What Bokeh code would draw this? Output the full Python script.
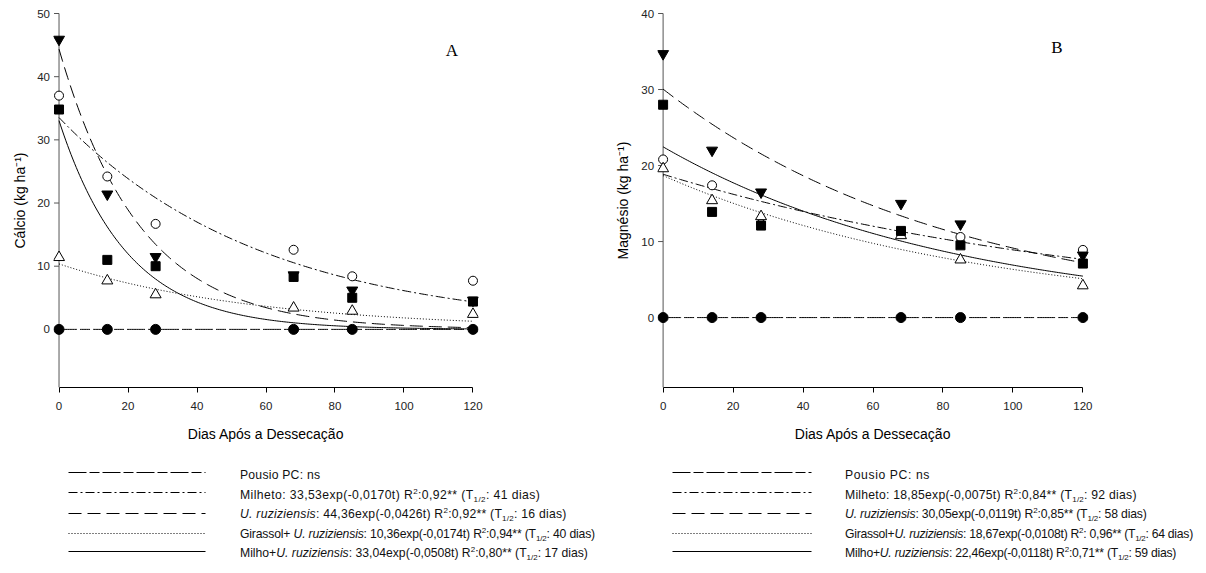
import numpy as np
from bokeh.plotting import figure
from bokeh.models import Range1d, FixedTicker, Div
from bokeh.layouts import column, row
from bokeh.embed import file_html
from bokeh.resources import INLINE
from bokeh.core.properties import value

# ---------------- data ----------------
days = [0, 14, 28, 68, 85, 120]
series_names = ["Pousio PC", "Milheto", "U. ruziziensis", "Girassol+U. ruziziensis", "Milho+U. ruziziensis"]

# Panel A - Calcio (kg/ha)
ca_pousio = [0, 0, 0, 0, 0, 0]
ca_milheto = [37.0, 24.2, 16.7, 12.6, 8.4, 7.7]
ca_uruz = [45.9, 21.4, 11.5, 8.6, 6.2, 4.6]
ca_girassol = [11.4, 7.7, 5.5, 3.4, 2.9, 2.4]
ca_milho = [34.8, 11.0, 10.0, 8.3, 5.0, 4.4]
# fitted models y = a*exp(-b t) (Pousio: ns -> 0)
ca_a = [0.0, 33.53, 44.36, 10.36, 33.04]
ca_b = [0.0, 0.0170, 0.0426, 0.0174, 0.0508]

# Panel B - Magnesio (kg/ha)
mg_pousio = [0, 0, 0, 0, 0, 0]
mg_milheto = [20.8, 17.4, 12.3, 11.1, 10.6, 8.9]
mg_uruz = [34.7, 22.0, 16.5, 15.0, 12.3, 8.2]
mg_girassol = [19.6, 15.4, 13.3, 10.8, 7.6, 4.2]
mg_milho = [28.0, 13.9, 12.1, 11.4, 9.5, 7.1]
mg_a = [0.0, 18.85, 30.05, 18.67, 22.46]
mg_b = [0.0, 0.0075, 0.0119, 0.0108, 0.0118]

x_ticks = [0, 20, 40, 60, 80, 100, 120]
ca_ticks = [0, 10, 20, 30, 40, 50]
mg_ticks = [0, 10, 20, 30, 40]

legend_A = [
    "Pousio PC: ns",
    "Milheto: 33,53exp(-0,0170t) R<sup>2</sup>:0,92** (T<sub>1/2</sub>: 41 dias)",
    "<i>U. ruziziensis</i>: 44,36exp(-0,0426t) R<sup>2</sup>:0,92** (T<sub>1/2</sub>: 16 dias)",
    "Girassol+ <i>U. ruziziensis</i>: 10,36exp(-0,0174t) R<sup>2</sup>:0,94** (T<sub>1/2</sub>: 40 dias)",
    "Milho+<i>U. ruziziensis</i>: 33,04exp(-0,0508t) R<sup>2</sup>:0,80** (T<sub>1/2</sub>: 17 dias)",
]
legend_B = [
    "Pousio PC: ns",
    "Milheto: 18,85exp(-0,0075t) R<sup>2</sup>:0,84** (T<sub>1/2</sub>: 92 dias)",
    "<i>U. ruziziensis</i>: 30,05exp(-0,0119t) R<sup>2</sup>:0,85** (T<sub>1/2</sub>: 58 dias)",
    "Girassol+<i>U. ruziziensis</i>: 18,67exp(-0,0108t) R<sup>2</sup>: 0,96** (T<sub>1/2</sub>: 64 dias)",
    "Milho+<i>U. ruziziensis</i>: 22,46exp(-0,0118t) R<sup>2</sup>:0,71** (T<sub>1/2</sub>: 59 dias)",
]

# ---------------- styles ----------------
DASHES = ["18 3 10 3", "9 3 2 3", "13 6", "1 2", "solid"]
MARKERS = [
    dict(marker="circle", size=10, fill_color="black", line_color="black"),
    dict(marker="circle", size=9, fill_color="white", line_color="black"),
    dict(marker="inverted_triangle", size=11, fill_color="black", line_color="black"),
    dict(marker="triangle", size=11, fill_color="white", line_color="black"),
    dict(marker="square", size=9, fill_color="black", line_color="black"),
]
DRAW_ORDER = [0, 1, 3, 2, 4]
AX_FONT = "Liberation Sans"
PAD = 1.6
FRAME_H = 374     # pixel height from top tick to x axis
FIG_H = 463
TOP = 13          # pixels above the top tick


def make_panel(values, a, b, ticks, ymin, ymax, ylabel, letter, letter_xy,
               axis_w, width, frame_w, title_dx):
    bottom = FIG_H - TOP - FRAME_H
    y_per_px = (ymax - ymin) / FRAME_H
    # frame spans the whole height above the x axis so top tick label is not clipped
    yr = Range1d(ymin, ymax + TOP * y_per_px)

    # --- y-axis strip (tick labels + rotated title), pixel coordinates in x ---
    ax = figure(width=axis_w, height=FIG_H, output_backend="svg", toolbar_location=None,
                x_range=Range1d(0, axis_w), y_range=yr,
                x_axis_location=None, y_axis_location=None,
                min_border_left=0, min_border_right=0,
                min_border_top=0, min_border_bottom=bottom,
                outline_line_color=None, background_fill_color="white",
                border_fill_color="white")
    ax.grid.visible = False
    px_per_unit = frame_w / (120 + 2 * PAD)
    x_axis_px = axis_w + PAD * px_per_unit          # screen x of data x = 0
    ax.text(x=[x_axis_px - 9] * len(ticks), y=ticks, text=[str(t) for t in ticks],
            text_align="right", text_baseline="middle", text_font=value(AX_FONT),
            text_font_size="11.5px", text_color="#222222")
    ax.text(x=[x_axis_px + title_dx], y=[(ymin + ymax) / 2], text=[ylabel],
            angle=np.pi / 2, text_align="center", text_baseline="middle",
            text_font=value(AX_FONT), text_font_size="14px", text_color="black")

    # --- main plot ---
    p = figure(width=width, height=FIG_H, output_backend="svg", toolbar_location=None,
               x_range=Range1d(-PAD, 120 + PAD), y_range=yr, y_axis_location=None,
               min_border_left=0, min_border_right=width - frame_w,
               min_border_top=0, min_border_bottom=bottom,
               outline_line_color=None, background_fill_color="white",
               border_fill_color="white")
    p.grid.visible = False
    tick_len = 5.0 / px_per_unit
    # y axis line at x = 0 from the x axis up to the top tick, with outward ticks
    p.segment(x0=[0], y0=[ymin], x1=[0], y1=[max(ticks)], line_color="#555555", line_width=1)
    p.segment(x0=[-tick_len] * len(ticks), y0=ticks, x1=[0] * len(ticks), y1=ticks,
              line_color="#555555", line_width=1)

    t = np.linspace(0, 120, 241)
    for i in range(5):
        yfit = a[i] * np.exp(-b[i] * t)
        p.line(t, yfit, line_color="black", line_width=1, line_dash=DASHES[i])
    for i in DRAW_ORDER:
        p.scatter(days, values[i], line_width=1, **MARKERS[i])

    p.text(x=[letter_xy[0]], y=[letter_xy[1]], text=[letter],
           text_font=value("Liberation Serif"), text_font_size="17px",
           text_align="center", text_baseline="middle", text_color="black")

    xa = p.xaxis[0]
    xa.bounds = (0, 120)
    xa.ticker = FixedTicker(ticks=x_ticks, minor_ticks=[])
    xa.axis_label = "Dias Após a Dessecação"
    xa.axis_label_text_font = AX_FONT
    xa.axis_label_text_font_size = "14px"
    xa.axis_label_text_font_style = "normal"
    xa.axis_label_text_color = "black"
    xa.axis_label_standoff = 13
    xa.major_label_text_font = AX_FONT
    xa.major_label_text_font_size = "11.5px"
    xa.major_label_text_color = "#222222"
    xa.major_label_standoff = 9
    xa.major_tick_in = 0
    xa.major_tick_out = 5
    xa.axis_line_color = "black"
    xa.major_tick_line_color = "black"
    return ax, p


def make_legend(lines_x0, lines_x1, fig_w, texts, spacings, div_w):
    lf = figure(width=fig_w, height=100, output_backend="svg", toolbar_location=None,
                x_range=Range1d(0, fig_w), y_range=Range1d(100, 0),
                x_axis_location=None, y_axis_location=None, min_border=0,
                outline_line_color=None, background_fill_color="white",
                border_fill_color="white")
    lf.grid.visible = False
    row_y = [9, 29, 50, 70, 88]
    for i in range(5):
        lf.line([lines_x0, lines_x1], [row_y[i], row_y[i]], line_color="black",
                line_width=1, line_dash=DASHES[i])
    sup = '<sup style="font-size:8px;line-height:0;vertical-align:5px">'
    sub = '<sub style="font-size:8px;line-height:0;vertical-align:-3px">'
    rows_html = []
    for s, ls in zip(texts, spacings):
        s = s.replace("<sup>", sup).replace("<sub>", sub)
        rows_html.append('<div style="height:19.5px;line-height:19.5px;letter-spacing:%.2fpx">%s</div>' % (ls, s))
    html = ('<div style="font-family:\'Liberation Sans\',Arial,sans-serif;font-size:12.2px;'
            'color:#111;white-space:nowrap;padding-top:3px">'
            + "".join(rows_html) + '</div>')
    d = Div(text=html, width=div_w, height=100, margin=0)
    return lf, d


ca_vals = [ca_pousio, ca_milheto, ca_uruz, ca_girassol, ca_milho]
mg_vals = [mg_pousio, mg_milheto, mg_uruz, mg_girassol, mg_milho]

axA, pA = make_panel(ca_vals, ca_a, ca_b, ca_ticks, -9.2, 50, "Cálcio (kg ha⁻¹)", "A",
                     (113.9, 44.1), 53, 550, 425, -39)
axB, pB = make_panel(mg_vals, mg_a, mg_b, mg_ticks, -9.2, 40, "Magnésio (kg ha⁻¹)", "B",
                     (112.6, 35.5), 54, 546, 431, -40)

lA, dA = make_legend(68, 205, 240, legend_A, [0.23, 0.41, 0.25, -0.17, 0.0], 363)
lB, dB = make_legend(69, 208, 242, legend_B, [0.6, 0.25, -0.15, -0.27, -0.24], 358)

layout = column(row(axA, pA, axB, pB, spacing=0), row(lA, dA, lB, dB, spacing=0), spacing=0)

open("out.html", "w").write(file_html(layout, INLINE))
